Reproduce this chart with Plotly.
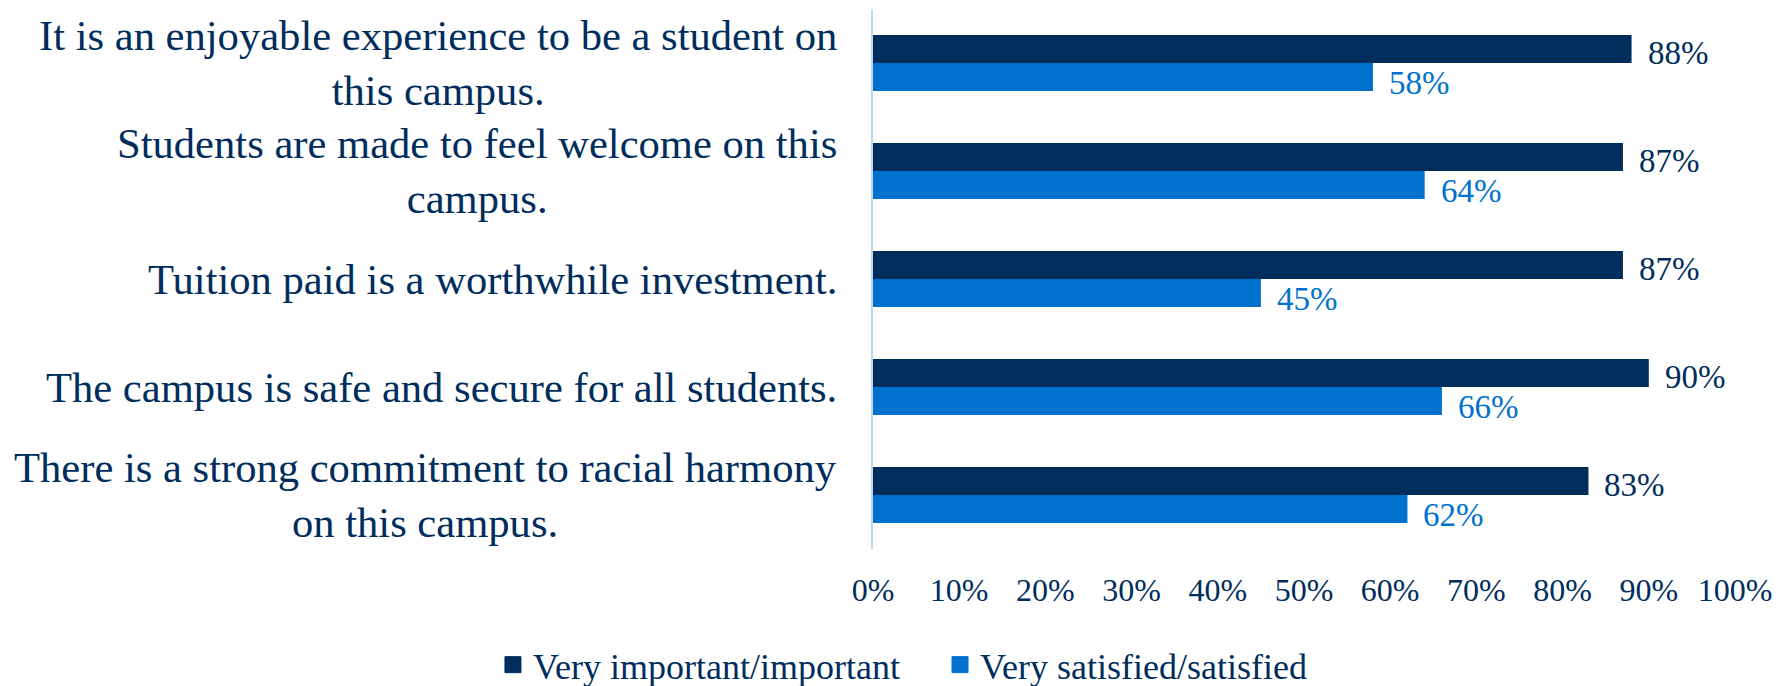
import plotly.graph_objects as go

# Survey statements (top to bottom) and the share of students for each series
statements = [
    "It is an enjoyable experience to be a student on<br>this campus.",
    "Students are made to feel welcome on this<br>campus.",
    "Tuition paid is a worthwhile investment.",
    "The campus is safe and secure for all students.",
    "There is a strong commitment to racial harmony<br>on this campus.",
]
important = [88, 87, 87, 90, 83]
satisfied = [58, 64, 45, 66, 62]
series_names = ["Very important/important", "Very satisfied/satisfied"]
x_ticks = [0, 10, 20, 30, 40, 50, 60, 70, 80, 90, 100]
x_tick_labels = [f"{t}%" for t in x_ticks]

NAVY = "#002D5C"
BLUE = "#0071CE"
FONT = "Liberation Serif"

fig = go.Figure()
fig.add_trace(go.Bar(
    y=statements, x=important, orientation="h", showlegend=False,
    name=series_names[0], marker=dict(color=NAVY, line=dict(width=0)),
))
fig.add_trace(go.Bar(
    y=statements, x=satisfied, orientation="h", showlegend=False,
    name=series_names[1], marker=dict(color=BLUE, line=dict(width=0)),
))

# legend entries with larger square swatches, one legend per series
for name, color, leg in zip(series_names, [NAVY, BLUE], ["legend", "legend2"]):
    fig.add_trace(go.Scatter(
        x=[None], y=[None], mode="markers", name=name, legend=leg,
        marker=dict(symbol="square", size=16, color=color, line=dict(width=1, color=color)),
        hoverinfo="skip",
    ))

# category labels: right-aligned block, lines centred within the block
for s in statements:
    fig.add_annotation(x=0, y=s, text=s, xref="paper", yref="y", xanchor="right",
                       yanchor="middle", align="center", xshift=-34, showarrow=False,
                       font=dict(family=FONT, size=42.6, color=NAVY))

# value labels just past the end of each bar
for s, v in zip(statements, important):
    fig.add_annotation(x=v, y=s, text=f"{v}%", xref="x", yref="y", xanchor="left",
                       yanchor="middle", xshift=14, yshift=10, showarrow=False,
                       font=dict(family=FONT, size=33, color=NAVY))
for s, v in zip(statements, satisfied):
    fig.add_annotation(x=v, y=s, text=f"{v}%", xref="x", yref="y", xanchor="left",
                       yanchor="middle", xshift=14, yshift=-20, showarrow=False,
                       font=dict(family=FONT, size=33, color=BLUE))

legend_style = dict(orientation="h", xref="container", yref="container",
                    xanchor="left", y=0.031, yanchor="middle", itemsizing="trace",
                    font=dict(family=FONT, size=36, color=NAVY),
                    itemwidth=30, bgcolor="rgba(0,0,0,0)")

fig.update_layout(
    width=1779, height=686,
    margin=dict(l=873, r=44, t=9, b=137, autoexpand=False),
    paper_bgcolor="white", plot_bgcolor="white",
    barmode="group", bargap=0.48, bargroupgap=0,
    font=dict(family=FONT, color=NAVY),
    showlegend=True,
    legend=dict(x=0.2771, **legend_style),
    legend2=dict(x=0.5284, **legend_style),
)
fig.update_yaxes(
    autorange="reversed", showline=True, linecolor="#BDD7EE", linewidth=1.5,
    showgrid=False, ticks="", showticklabels=False,
)
fig.update_xaxes(
    range=[0, 100], tickvals=x_ticks, ticktext=x_tick_labels,
    showgrid=False, zeroline=False, showline=False, ticks="",
    ticklabelstandoff=19, tickfont=dict(family=FONT, size=32, color=NAVY),
)

fig.write_html("out.html")
